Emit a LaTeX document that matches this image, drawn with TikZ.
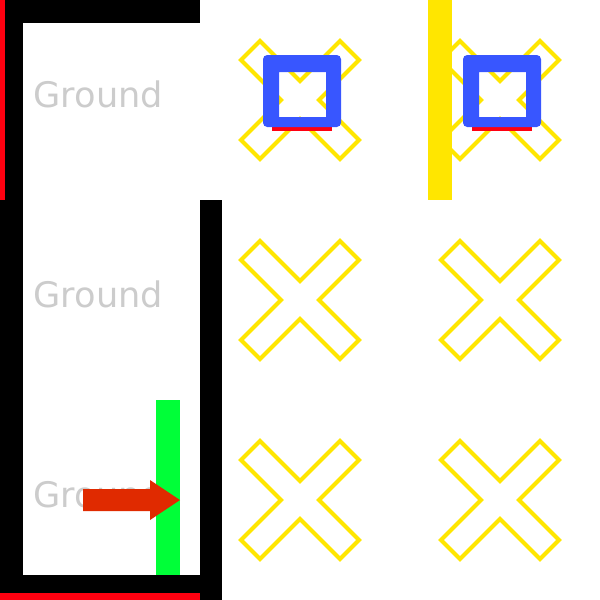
\documentclass[tikz,border=0pt]{standalone}
\usepackage{fontspec}
\setmainfont{DejaVu Sans}
\definecolor{wallred}{RGB}{255,0,16}
\definecolor{tileyellow}{RGB}{255,230,0}
\definecolor{boxblue}{RGB}{56,86,255}
\definecolor{goalgreen}{RGB}{0,255,56}
\definecolor{pushred}{RGB}{224,42,0}
\definecolor{labelgray}{RGB}{204,204,204}
\begin{document}
\begin{tikzpicture}[
        x=0.01cm,y=-0.01cm,
        every node/.style={
            inner sep=0pt,anchor=base west,text=labelgray,
            font=\fontsize{10}{12}\selectfont
        },
        wall/.style={fill=black},
        cross/.style={draw=tileyellow,line width=1.15pt,line join=miter},
        box/.style={fill=boxblue,even odd rule}
    ]
    \useasboundingbox (0,0) rectangle (600,600);
% Walls
    \fill[wall] (5,0) rectangle (200,23);
    \fill[wall] (5,0) rectangle (23,200);
    \fill[wall] (0,200) rectangle (23,593);
    \fill[wall] (0,575) rectangle (200,593);
    \fill[wall] (200,200) rectangle (222,600);
    \fill[wallred] (0,0) rectangle (5,200);
    \fill[wallred] (0,593) rectangle (200,600);
% Labels
\foreach\r in {0,1,2}{
    \node (ground\r) at (33,107+200*\r) {Ground};
}
% Tiles
\foreach\x in {300,500}{
\foreach\y in {100,300,500}{
    \draw[cross,shift={(\x,\y)}] (0,19) -- (40,59) -- (59,40) -- (19,0) -- (59,-40) -- (40,-59)
        -- (0,-19) -- (-40,-59) -- (-59,-40) -- (-19,0) -- (-59,40) -- (-40,59) -- cycle;
}
}
    \fill[tileyellow] (428,0) rectangle (452,200);
% Boxes
\foreach\x in {0,200}{
    \fill[wallred,shift={(\x,0)}] (272,126) rectangle (332,131);
    \fill[box,shift={(\x,0)}] [rounded corners=1.2pt] (263,55) rectangle (341,127)
        [sharp corners] (279,72) rectangle (326,117);
}
% Goal and push
    \fill[goalgreen] (156,400) rectangle (180,575);
    \fill[pushred] (83,489) -- (150,489) -- (150,480) -- (180,500) -- (150,520) -- (150,511)
        -- (83,511) -- cycle;
\end{tikzpicture}
\end{document}
